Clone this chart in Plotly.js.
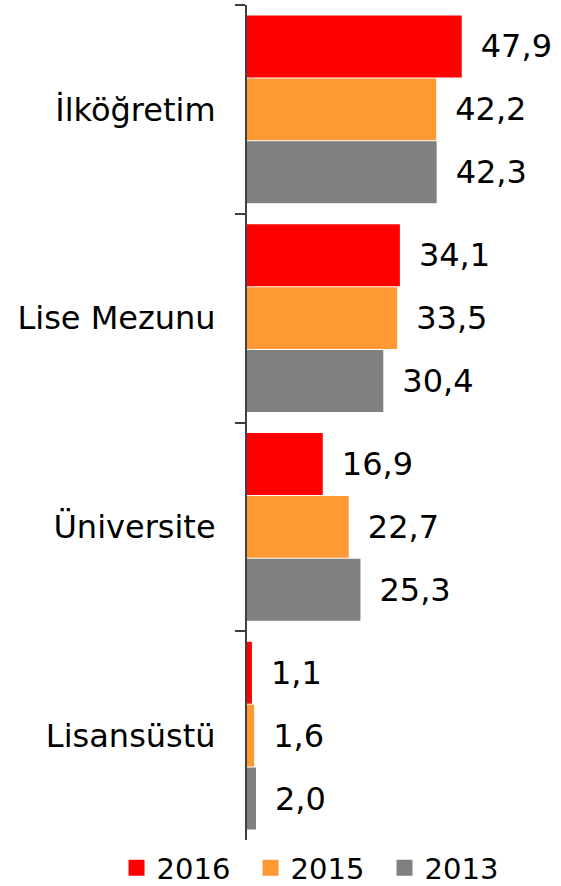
<!DOCTYPE html>
<html>
<head>
<meta charset="utf-8">
<script src="https://cdn.plot.ly/plotly-3.0.1.min.js"></script>
<style>html,body{margin:0;padding:0;background:#fff}#chart{width:561px;height:886px}</style>
</head>
<body>
<div id="chart"></div>
<script>
const categories = ["İlköğretim", "Lise Mezunu", "Üniversite", "Lisansüstü"];
const seriesNames = ["2016", "2015", "2013"];
const values2016 = [47.9, 34.1, 16.9, 1.1];
const values2015 = [42.2, 33.5, 22.7, 1.6];
const values2013 = [42.3, 30.4, 25.3, 2.0];
const colors = ["#FF0000", "#FF9933", "#808080"];

const FONT = "DejaVu Sans, Verdana, sans-serif";
const FS = 32;
const series = [values2016, values2015, values2013];
const traces = series.map((vals, i) => ({
  type: "bar",
  orientation: "h",
  name: seriesNames[i],
  y: categories,
  x: vals,
  marker: { color: colors[i] },
  texttemplate: "\u2002%{x:.1f}",
  textposition: "outside",
  constraintext: "none",
  cliponaxis: false,
  textfont: { family: FONT, size: FS, color: "#000" },
  hoverinfo: "none",
  showlegend: false
}));
// legend entries (no data)
seriesNames.forEach((n, i) => traces.push({
  type: "scatter",
  mode: "markers",
  name: n,
  x: [null],
  y: [null],
  marker: { symbol: "square", size: 17, color: colors[i] },
  showlegend: true,
  hoverinfo: "none"
}));

const layout = {
  width: 561,
  height: 886,
  margin: { l: 247, r: 45, t: 5, b: 46, autoexpand: false },
  separators: ",.",
  barmode: "group",
  bargap: 0.096,
  bargroupgap: 0.015,
  paper_bgcolor: "#fff",
  plot_bgcolor: "#fff",
  font: { family: FONT, size: FS, color: "#000" },
  showlegend: true,
  legend: {
    orientation: "h",
    x: -0.485, xanchor: "left",
    y: -0.003, yanchor: "top",
    font: { family: FONT, size: 29, color: "#000" },
    traceorder: "normal",
    itemsizing: "trace",
    itemwidth: 30,
    entrywidth: 89,
    entrywidthmode: "pixels",
    tracegroupgap: 0
  },
  xaxis: {
    range: [0, 60],
    showgrid: false,
    zeroline: false,
    showticklabels: false,
    showline: false,
    ticks: ""
  },
  yaxis: {
    type: "category",
    autorange: "reversed",
    showgrid: false,
    zeroline: false,
    showline: true,
    linecolor: "#404040",
    linewidth: 2,
    ticks: "outside",
    ticklen: 10,
    tickwidth: 2,
    tickcolor: "#404040",
    tickson: "boundaries",
    ticklabelstandoff: 23,
    tickfont: { family: FONT, size: FS, color: "#000" }
  }
};

Plotly.newPlot("chart", traces, layout, { staticPlot: true, displayModeBar: false });
</script>
</body>
</html>
